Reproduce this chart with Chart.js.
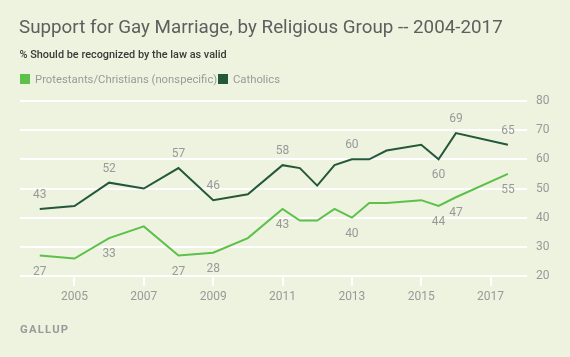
<!DOCTYPE html>
<html>
<head>
<meta charset="utf-8">
<script src="https://cdn.jsdelivr.net/npm/chart.js@4"></script>
<style>
  html, body { margin: 0; padding: 0; background: #edf3df; }
  #wrap { position: relative; width: 570px; height: 357px; overflow: hidden; font-family: Roboto, "Liberation Sans", sans-serif; }
  #c { position: absolute; left: 0; top: 0; }
  .t { position: absolute; white-space: nowrap; }
  #title { left: 19px; top: 18px; font-size: 18.8px; line-height: 18.8px; color: #5e5e5e; }
  #sub { left: 19.5px; top: 49.5px; font-size: 10.9px; line-height: 10.9px; font-weight: 500; color: #3a3a3a; }
  .lt { top: 73.5px; font-size: 11.3px; line-height: 11.3px; color: #9a9a9a; }
  .sq { position: absolute; width: 9.5px; height: 9.5px; top: 74.3px; }
  #gallup { left: 20px; top: 323.5px; font-size: 11.3px; line-height: 11.3px; font-weight: bold; letter-spacing: 1.2px; color: #9a9a9a; }
</style>
</head>
<body>
<div id="wrap">
  <canvas id="c" width="570" height="357"></canvas>
  <div class="t" id="title">Support for Gay Marriage, by Religious Group -- 2004-2017</div>
  <div class="t" id="sub">% Should be recognized by the law as valid</div>
  <div class="sq" style="left:20px;background:#5cc04a"></div>
  <div class="t lt" style="left:35px">Protestants/Christians (nonspecific)</div>
  <div class="sq" style="left:218.3px;background:#24583a"></div>
  <div class="t lt" style="left:233px">Catholics</div>
  <div class="t" id="gallup">GALLUP</div>
</div>
<script>
const years = [2004, 2005, 2006, 2007, 2008, 2009, 2010, 2011, 2011.5, 2012, 2012.5, 2013, 2013.5, 2014, 2015, 2015.5, 2016, 2017.5];
const protestants = [27, 26, 33, 37, 27, 28, 33, 43, 39, 39, 43, 40, 45, 45, 46, 44, 47, 55];
const catholics   = [43, 44, 52, 50, 57, 46, 48, 58, 57, 51, 58, 60, 60, 63, 65, 60, 69, 65];
const xTickYears = [2005, 2007, 2009, 2011, 2013, 2015, 2017];
const yTickValues = [20, 30, 40, 50, 60, 70, 80];
// which points carry a value label: 'a' above, 'b' below
const protLabels = ['b', '', 'b', '', 'b', 'b', '', 'b', '', '', '', 'b', '', '', '', 'b', 'b', 'b'];
const cathLabels = ['a', '', 'a', '', 'a', 'a', '', 'a', '', '', '', 'a', '', '', '', 'b', 'a', 'a'];

const toPts = vals => vals.map((v, i) => ({ x: years[i], y: v }));

const labelPlugin = {
  id: 'valueLabels',
  afterDatasetsDraw(chart) {
    const ctx = chart.ctx;
    ctx.save();
    ctx.font = '12px Roboto, "Liberation Sans", sans-serif';
    ctx.fillStyle = '#999999';
    ctx.textAlign = 'center';
    ctx.textBaseline = 'middle';
    const xs = chart.scales.x, ys = chart.scales.y;
    const sets = [[protestants, protLabels], [catholics, cathLabels]];
    sets.forEach(([vals, labs]) => {
      vals.forEach((v, i) => {
        if (!labs[i]) return;
        const px = xs.getPixelForValue(years[i]);
        const py = ys.getPixelForValue(v) + (labs[i] === 'a' ? -14 : 16);
        ctx.fillText(String(v), px, py);
      });
    });
    ctx.restore();
  }
};

new Chart(document.getElementById('c'), {
  type: 'line',
  data: {
    datasets: [
      { label: 'Protestants/Christians (nonspecific)', data: toPts(protestants), borderColor: '#5cc04a', borderWidth: 2, pointRadius: 0, tension: 0, fill: false },
      { label: 'Catholics', data: toPts(catholics), borderColor: '#24583a', borderWidth: 2, pointRadius: 0, tension: 0, fill: false }
    ]
  },
  options: {
    responsive: false,
    animation: false,
    layout: { padding: { left: 20, top: 101, right: 0, bottom: 0 } },
    plugins: { legend: { display: false }, title: { display: false }, tooltip: { enabled: false } },
    scales: {
      x: {
        type: 'linear',
        min: 2003.43,
        max: 2018.05,
        afterBuildTicks: s => { s.ticks = xTickYears.map(v => ({ value: v })); },
        afterFit: s => { s.height = 81; },
        border: { display: false },
        grid: { drawOnChartArea: false, drawTicks: true, tickLength: 10, color: '#ffffff', lineWidth: 2 },
        ticks: { color: '#999999', font: { size: 12, family: 'Roboto, "Liberation Sans", sans-serif' }, padding: 4, maxRotation: 0, callback: v => String(v) }
      },
      y: {
        position: 'right',
        min: 20,
        max: 80,
        afterBuildTicks: s => { s.ticks = yTickValues.map(v => ({ value: v })); },
        afterFit: s => { s.width = 43; },
        border: { display: false },
        grid: { color: '#ffffff', lineWidth: 2, drawTicks: false },
        ticks: { color: '#999999', font: { size: 12, family: 'Roboto, "Liberation Sans", sans-serif' }, padding: 9 }
      }
    }
  },
  plugins: [labelPlugin]
});
</script>
</body>
</html>
